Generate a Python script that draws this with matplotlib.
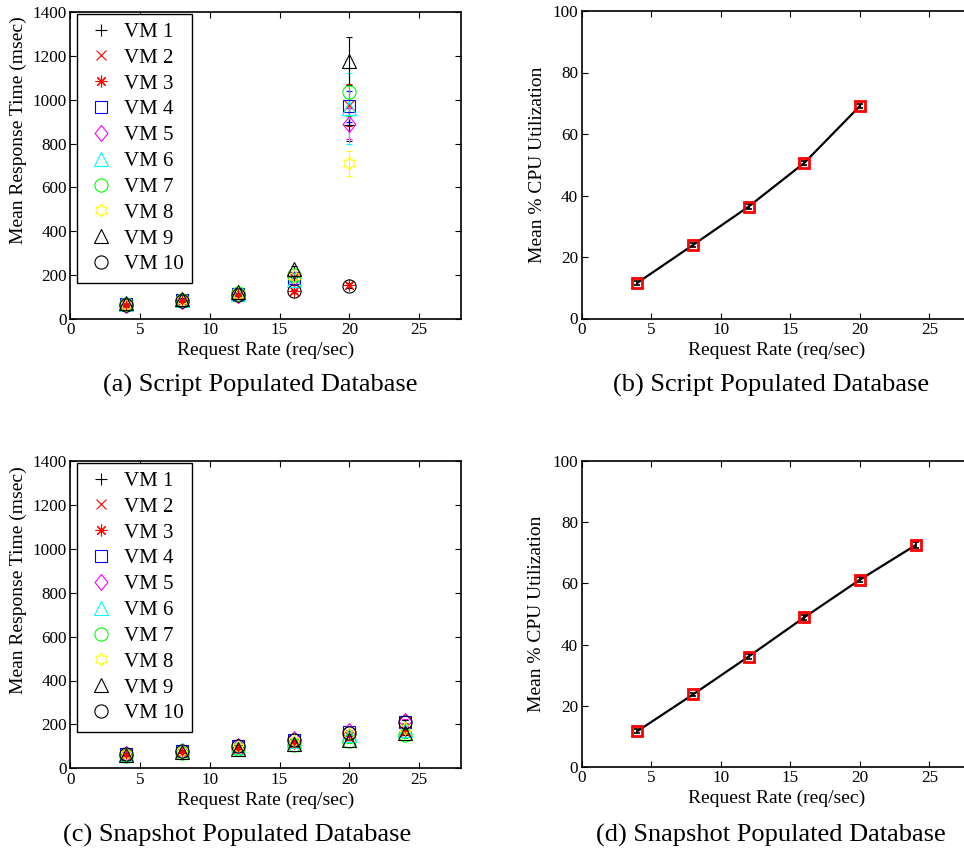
import matplotlib
matplotlib.use('Agg')
import matplotlib.pyplot as plt
import numpy as np
from matplotlib.path import Path

plt.rcParams['font.family'] = ['Liberation Serif', 'DejaVu Serif']

# ---------------- data ----------------
rate_script = [4, 8, 12, 16, 20]
rate_snap = [4, 8, 12, 16, 20, 24]
vm_labels = ['VM 1', 'VM 2', 'VM 3', 'VM 4', 'VM 5',
             'VM 6', 'VM 7', 'VM 8', 'VM 9', 'VM 10']

# mean response time (msec), script populated database, one row per VM
resp_script = [
    [68, 85, 112, 190, 885],
    [66, 84, 110, 190, 975],
    [64, 82, 108, 126, 153],
    [67, 86, 113, 188, 970],
    [63, 80, 108, 188, 890],
    [68, 87, 115, 180, 960],
    [70, 88, 118, 200, 1035],
    [66, 85, 112, 195, 710],
    [75, 92, 125, 228, 1175],
    [65, 83, 110, 126, 152],
]
err_script = [
    [5, 6, 8, 12, 75],
    [5, 6, 8, 12, 95],
    [5, 5, 6, 8, 10],
    [5, 6, 8, 12, 70],
    [5, 6, 8, 12, 70],
    [5, 6, 8, 12, 160],
    [5, 6, 8, 12, 110],
    [5, 6, 8, 12, 58],
    [5, 6, 8, 12, 110],
    [5, 5, 6, 8, 10],
]

# mean response time (msec), snapshot populated database
resp_snap = [
    [62, 76, 95, 120, 150, 190],
    [60, 72, 90, 112, 140, 165],
    [63, 75, 93, 115, 145, 170],
    [66, 80, 102, 130, 165, 210],
    [64, 78, 100, 132, 168, 215],
    [67, 82, 98, 125, 150, 175],
    [58, 70, 86, 108, 125, 150],
    [65, 78, 97, 125, 155, 185],
    [60, 72, 88, 110, 130, 160],
    [65, 80, 100, 128, 162, 210],
]
err_snap = [
    [4, 5, 6, 7, 8, 10],
    [4, 5, 6, 7, 8, 10],
    [4, 5, 6, 7, 8, 10],
    [4, 5, 6, 7, 8, 10],
    [4, 5, 6, 7, 8, 10],
    [4, 5, 6, 7, 8, 10],
    [4, 5, 6, 7, 8, 10],
    [4, 5, 6, 7, 8, 10],
    [4, 5, 6, 7, 8, 10],
    [4, 5, 6, 7, 8, 10],
]

# mean % CPU utilization
cpu_script = [11.6, 23.9, 36.4, 50.6, 69.1]
cpu_script_err = [0.6, 0.6, 0.7, 0.7, 0.8]
cpu_snap = [11.7, 23.7, 36.1, 48.9, 61.2, 72.5]
cpu_snap_err = [0.6, 0.6, 0.7, 0.8, 0.8, 0.9]

captions = ['(a) Script Populated Database', '(b) Script Populated Database',
            '(c) Snapshot Populated Database', '(d) Snapshot Populated Database']

# ---------------- marker shapes ----------------
# hexagram (six-pointed star, MATLAB 'h')
_ang = np.deg2rad(90 + 30 * np.arange(12))
_rad = np.where(np.arange(12) % 2 == 0, 1.0, 1 / np.sqrt(3))
_hex_v = np.column_stack([_rad * np.cos(_ang), _rad * np.sin(_ang)])
hexagram = Path(np.vstack([_hex_v, _hex_v[:1]]), closed=True)
# MATLAB-style diamond (slightly taller than wide)
diamond = Path([(0, 1), (0.8, 0), (0, -1), (-0.8, 0), (0, 1)], closed=True)
# asterisk (MATLAB '*': plus and cross combined)
asterisk = (8, 2, 0)

# ---------------- styles ----------------
vm_markers = ['+', 'x', asterisk, 's', diamond, '^', 'o', hexagram, '^', 'o']
vm_msizes = [8.6, 6.5, 8.5, 8.0, 11.5, 10, 9.5, 9.5, 10, 9.5]
vm_colors = ['black', '#ff0000', '#ff0000', '#0000ff', '#ff00ff',
             '#00ffff', '#00ff00', '#ffff00', 'black', 'black']

W, H = 964.0, 852.0
fig = plt.figure(figsize=(W / 100, H / 100), dpi=100)


def rect(left, top, width, bottom):
    return [left / W, (H - bottom) / H, width / W, (bottom - top) / H]


ax_a = fig.add_axes(rect(70.3, 12, 390.7, 319))
ax_b = fig.add_axes(rect(581.7, 11, 389.5, 318.5))
ax_c = fig.add_axes(rect(70.3, 461, 390.7, 768.3))
ax_d = fig.add_axes(rect(581.7, 461, 389.5, 767))

TICK_FS = 12.3
LABEL_FS = 14
LEG_FS = 15
CAP_FS = 19


def style_axes(ax, ylim, yticks):
    ax.set_xlim(0, 28)
    ax.set_ylim(*ylim)
    ax.set_xticks([0, 5, 10, 15, 20, 25])
    ax.set_yticks(yticks)
    ax.tick_params(direction='in', top=True, right=True, length=4,
                   width=0.8, labelsize=TICK_FS, pad=2.5)
    for sp in ax.spines.values():
        sp.set_linewidth(1.2)
    ax.set_xlabel('Request Rate (req/sec)', fontsize=LABEL_FS, va='top')
    ax.xaxis.set_label_coords(0.5, -0.075)


def response_panel(ax, rates, resp, err, ylab_y):
    for i in range(len(vm_labels)):
        ax.errorbar(rates, resp[i], yerr=err[i], fmt='none',
                    ecolor=vm_colors[i], elinewidth=0.8, capsize=2.2,
                    capthick=0.8, zorder=2 + i * 0.01)
        ax.plot(rates, resp[i], linestyle='none', marker=vm_markers[i],
                markersize=vm_msizes[i], markerfacecolor='none',
                markeredgecolor=vm_colors[i], markeredgewidth=0.8,
                label=vm_labels[i], zorder=3 + i * 0.01)
    style_axes(ax, (0, 1400), list(range(0, 1401, 200)))
    ax.set_ylabel('Mean Response Time (msec)', fontsize=LABEL_FS, va='center')
    ax.yaxis.set_label_coords(-0.134, ylab_y)
    leg = ax.legend(loc='upper left', bbox_to_anchor=(0.0164, 0.9935),
                    borderaxespad=0, fontsize=LEG_FS, fancybox=False,
                    edgecolor='black', framealpha=1, handlelength=1.5,
                    handletextpad=0.36, labelspacing=0.30, borderpad=0.4)
    leg.get_frame().set_linewidth(1.0)


def cpu_panel(ax, rates, cpu, err, ylab_x):
    ax.plot(rates, cpu, color='black', linewidth=1.6, zorder=2)
    ax.errorbar(rates, cpu, yerr=err, fmt='none', ecolor='black',
                elinewidth=1.2, capsize=2.5, capthick=1.2, zorder=3)
    ax.plot(rates, cpu, linestyle='none', marker='s', markersize=7,
            markerfacecolor='none', markeredgecolor='#ff0000',
            markeredgewidth=2, zorder=4)
    style_axes(ax, (0, 100), [0, 20, 40, 60, 80, 100])
    ax.set_ylabel('Mean % CPU Utilization', fontsize=LABEL_FS, va='center')
    ax.yaxis.set_label_coords(ylab_x, 0.5)


response_panel(ax_a, rate_script, resp_script, err_script, 0.615)
response_panel(ax_c, rate_snap, resp_snap, err_snap, 0.612)
cpu_panel(ax_b, rate_script, cpu_script, cpu_script_err, -0.113)
cpu_panel(ax_d, rate_snap, cpu_snap, cpu_snap_err, -0.117)

cap_pos = [(260, 385), (771, 385), (237, 835), (771, 835)]
for (cx, cy), txt in zip(cap_pos, captions):
    fig.text(cx / W, 1 - cy / H, txt, fontsize=CAP_FS, ha='center', va='center')

fig.savefig('out.png', dpi=100)
